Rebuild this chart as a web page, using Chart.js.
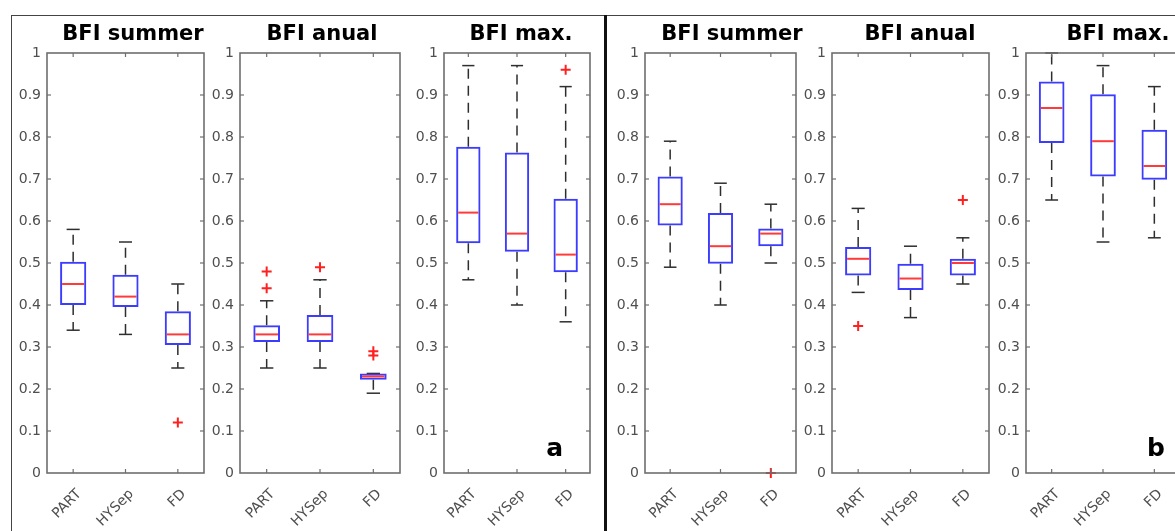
<!DOCTYPE html>
<html>
<head>
<meta charset="utf-8">
<script src="https://cdn.jsdelivr.net/npm/chart.js@4.4.1/dist/chart.umd.min.js"></script>
<style>
  html, body { margin: 0; padding: 0; background: #ffffff; }
  body { width: 1175px; height: 531px; overflow: hidden; position: relative; }
  canvas { position: absolute; top: 0; }
  .ln { position: absolute; }
</style>
</head>
<body>
<div class="ln" style="left:11px;top:15px;width:1164px;height:1px;background:#444;"></div>
<div class="ln" style="left:11px;top:15px;width:1px;height:516px;background:#444;"></div>
<div class="ln" style="left:604px;top:15px;width:3px;height:516px;background:#111;"></div>
<script>
// ---------------- data ----------------
const categories = ['PART', 'HYSep', 'FD'];
const panelTitles = ['BFI summer', 'BFI anual', 'BFI max.'];
const panelTags = ['a', 'b'];
const yTickValues = [0, 0.1, 0.2, 0.3, 0.4, 0.5, 0.6, 0.7, 0.8, 0.9, 1];
const yTickLabels = ['0', '0.1', '0.2', '0.3', '0.4', '0.5', '0.6', '0.7', '0.8', '0.9', '1'];

// each row: [lower whisker, Q1, median, Q3, upper whisker] for PART, HYSep, FD
const aSummerStats = [[0.34, 0.40, 0.45, 0.503, 0.58], [0.33, 0.395, 0.42, 0.472, 0.55], [0.25, 0.305, 0.33, 0.385, 0.45]];
const aSummerOutliers = [[], [], [0.12]];
const aAnualStats = [[0.25, 0.312, 0.33, 0.352, 0.41], [0.25, 0.312, 0.33, 0.376, 0.46], [0.19, 0.222, 0.23, 0.237, 0.237]];
const aAnualOutliers = [[0.44, 0.48], [0.49], [0.28, 0.29]];
const aMaxStats = [[0.46, 0.547, 0.62, 0.777, 0.97], [0.40, 0.527, 0.57, 0.763, 0.97], [0.36, 0.478, 0.52, 0.653, 0.92]];
const aMaxOutliers = [[], [], [0.96]];
const bSummerStats = [[0.49, 0.589, 0.64, 0.706, 0.79], [0.40, 0.498, 0.54, 0.619, 0.69], [0.50, 0.54, 0.57, 0.582, 0.64]];
const bSummerOutliers = [[], [], [0.0]];
const bAnualStats = [[0.43, 0.47, 0.51, 0.538, 0.63], [0.37, 0.436, 0.463, 0.498, 0.54], [0.45, 0.47, 0.50, 0.51, 0.56]];
const bAnualOutliers = [[0.35], [], [0.65]];
const bMaxStats = [[0.65, 0.786, 0.869, 0.932, 1.0], [0.55, 0.706, 0.79, 0.902, 0.97], [0.56, 0.698, 0.731, 0.817, 0.92]];
const bMaxOutliers = [[], [], []];

// ---------------- layout / style ----------------
const FONT = 'DejaVu Sans';
const TICK_COLOR = '#4f4f4f';
const FRAME_COLOR = '#6e6e6e';
const BOX_COLOR = '#3c3cff';
const MED_COLOR = '#ff3a3a';
const WHISK_COLOR = '#2e2e2e';
const OUT_COLOR = '#ff2020';
const Y_AXIS_W = 40;
const CANVAS_H = 531;
const X_AXIS_H = 58;

const panels = [
  { L: 47,   R: 204,  tc: 133,  title: panelTitles[0], stats: aSummerStats, outliers: aSummerOutliers, tag: null },
  { L: 240,  R: 400,  tc: 322,  title: panelTitles[1], stats: aAnualStats,  outliers: aAnualOutliers,  tag: null },
  { L: 444,  R: 590,  tc: 521,  title: panelTitles[2], stats: aMaxStats,    outliers: aMaxOutliers,    tag: panelTags[0], tagDx: 27 },
  { L: 645,  R: 796,  tc: 732,  title: panelTitles[0], stats: bSummerStats, outliers: bSummerOutliers, tag: null },
  { L: 832,  R: 989,  tc: 920,  title: panelTitles[1], stats: bAnualStats,  outliers: bAnualOutliers,  tag: null },
  { L: 1026, R: 1180, tc: 1118, title: panelTitles[2], stats: bMaxStats,    outliers: bMaxOutliers,    tag: panelTags[1], tagDx: 15 }
];

function seg(ctx, x1, y1, x2, y2) {
  ctx.beginPath(); ctx.moveTo(x1, y1); ctx.lineTo(x2, y2); ctx.stroke();
}

const boxPlotPlugin = {
  id: 'boxPlotParts',
  beforeDatasetsDraw(chart) {
    const p = chart.$panel;
    const { ctx } = chart;
    const x = chart.scales.x, y = chart.scales.y;
    const unit = x.getPixelForValue(1) - x.getPixelForValue(0);
    ctx.save();
    ctx.strokeStyle = WHISK_COLOR;
    ctx.lineWidth = 1.5;
    p.stats.forEach((s, i) => {
      const cx = x.getPixelForValue(i);
      ctx.setLineDash([10, 7]);
      seg(ctx, cx, y.getPixelForValue(s[3]), cx, y.getPixelForValue(s[4]));
      seg(ctx, cx, y.getPixelForValue(s[1]), cx, y.getPixelForValue(s[0]));
      ctx.setLineDash([]);
      const hw = unit * 0.125;
      seg(ctx, cx - hw, y.getPixelForValue(s[4]), cx + hw, y.getPixelForValue(s[4]));
      seg(ctx, cx - hw, y.getPixelForValue(s[0]), cx + hw, y.getPixelForValue(s[0]));
    });
    ctx.restore();
  },
  afterDatasetsDraw(chart) {
    const p = chart.$panel;
    const { ctx } = chart;
    const x = chart.scales.x, y = chart.scales.y;
    const unit = x.getPixelForValue(1) - x.getPixelForValue(0);
    ctx.save();
    ctx.strokeStyle = MED_COLOR;
    ctx.lineWidth = 2;
    p.stats.forEach((s, i) => {
      const cx = x.getPixelForValue(i);
      const bw = unit * 0.25 - 2;
      seg(ctx, cx - bw, y.getPixelForValue(s[2]), cx + bw, y.getPixelForValue(s[2]));
    });
    ctx.restore();
  },
  afterDraw(chart) {
    const p = chart.$panel;
    const { ctx, chartArea: a } = chart;
    const x = chart.scales.x, y = chart.scales.y;
    ctx.save();
    ctx.strokeStyle = FRAME_COLOR;
    ctx.lineWidth = 1.6;
    ctx.strokeRect(a.left, a.top, a.right - a.left, a.bottom - a.top);
    ctx.lineWidth = 1.2;
    yTickValues.forEach(v => {
      if (v <= 0 || v >= 1) return;
      const py = y.getPixelForValue(v);
      seg(ctx, a.left, py, a.left + 4, py);
      seg(ctx, a.right - 4, py, a.right, py);
    });
    categories.forEach((c, i) => {
      const px = x.getPixelForValue(i);
      seg(ctx, px, a.bottom, px, a.bottom - 4);
      seg(ctx, px, a.top, px, a.top + 4);
    });
    if (p.tag) {
      ctx.fillStyle = '#000';
      ctx.font = 'bold 25px "' + FONT + '"';
      ctx.textAlign = 'right';
      ctx.textBaseline = 'alphabetic';
      ctx.fillText(p.tag, a.right - p.tagDx, a.bottom - 17);
    }
    ctx.restore();
  }
};

panels.forEach((p) => {
  const d = p.tc - (p.L + p.R) / 2;
  const padRight = Math.max(0, Math.round(Y_AXIS_W + 2 * d));
  const canvas = document.createElement('canvas');
  canvas.width = Y_AXIS_W + (p.R - p.L) + padRight;
  canvas.height = CANVAS_H;
  canvas.style.left = (p.L - Y_AXIS_W) + 'px';
  document.body.appendChild(canvas);

  const outlierPoints = [];
  p.outliers.forEach((arr, i) => arr.forEach(v => outlierPoints.push({ x: categories[i], y: v })));

  const chart = new Chart(canvas, {
    type: 'bar',
    data: {
      labels: categories,
      datasets: [
        {
          type: 'bar',
          label: 'box',
          data: p.stats.map(s => [s[1], s[3]]),
          backgroundColor: 'rgba(0,0,0,0)',
          borderColor: BOX_COLOR,
          borderWidth: 2,
          borderSkipped: false,
          categoryPercentage: 1,
          barPercentage: 0.5,
          yAxisID: 'y'
        },
        {
          type: 'line',
          label: 'outliers',
          data: outlierPoints,
          showLine: false,
          pointStyle: 'cross',
          pointRadius: 5,
          pointBorderWidth: 2,
          pointBorderColor: OUT_COLOR,
          pointBackgroundColor: OUT_COLOR,
          clip: false,
          yAxisID: 'y'
        }
      ]
    },
    options: {
      responsive: false,
      animation: false,
      events: [],
      layout: { padding: 0 },
      plugins: {
        legend: { display: false },
        tooltip: { enabled: false },
        title: {
          display: true,
          text: p.title,
          color: '#000000',
          font: { family: FONT, size: 21, weight: 'bold', lineHeight: 1 },
          padding: { top: 24, bottom: 8 }
        }
      },
      scales: {
        x: {
          type: 'category',
          offset: true,
          grid: { display: false, drawTicks: false },
          border: { display: false },
          ticks: {
            color: TICK_COLOR,
            font: { family: FONT, size: 14 },
            minRotation: 45,
            maxRotation: 45,
            autoSkip: false,
            padding: 13,
            labelOffset: 6
          },
          afterFit: (s) => { s.height = X_AXIS_H; }
        },
        y: {
          type: 'linear',
          position: 'left',
          min: 0,
          max: 1,
          grid: { display: false, drawTicks: false },
          border: { display: false },
          ticks: {
            color: TICK_COLOR,
            font: { family: FONT, size: 14 },
            padding: 6,
            callback: (v, i) => yTickLabels[i]
          },
          afterBuildTicks: (s) => { s.ticks = yTickValues.map(v => ({ value: v })); },
          afterFit: (s) => { s.width = Y_AXIS_W; }
        },
        yPad: {
          type: 'linear',
          position: 'right',
          display: true,
          min: 0,
          max: 1,
          grid: { display: false, drawTicks: false },
          border: { display: false },
          ticks: { display: false },
          afterFit: (s) => { s.width = padRight; }
        }
      }
    },
    plugins: [{
      id: 'panelRef',
      beforeInit(c) { c.$panel = p; }
    }, boxPlotPlugin]
  });
});
</script>
</body>
</html>
